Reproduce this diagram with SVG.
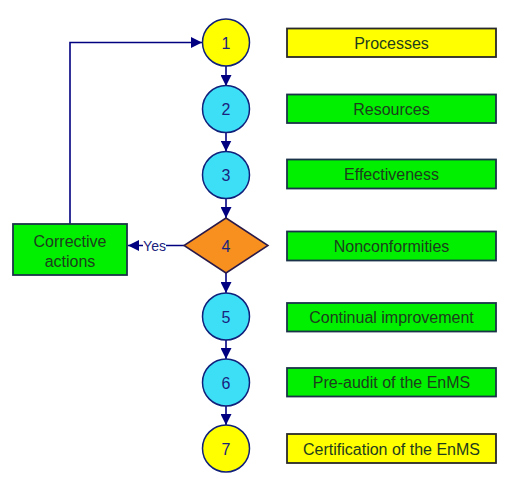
<svg xmlns="http://www.w3.org/2000/svg" width="506" height="479" viewBox="0 0 506 479">
<defs>
<style>
.c{stroke:#10207a;stroke-width:1.5}
.cy{fill:#3ddff7}
.ye{fill:#ffff00}
.gb{fill:#00f000;stroke:#1b3348;stroke-width:1.8}
.yb{fill:#ffff00;stroke:#2a2a2a;stroke-width:1.8}
.t{font-family:"Liberation Sans",Arial,sans-serif;font-size:16px;text-anchor:middle}
.tb{fill:#1d3d1d}
.tn{fill:#1a237e}
.ln{fill:none;stroke:#000080;stroke-width:1.6}
</style>
<marker id="ah" markerUnits="userSpaceOnUse" markerWidth="11" markerHeight="11" refX="11" refY="5.5" orient="auto">
<path d="M0,0 L11,5.5 L0,11 z" fill="#000080"/>
</marker>
</defs>
<rect width="506" height="479" fill="#ffffff"/>
<g id="connectors">
<line class="ln" x1="226" y1="66" x2="226" y2="86" marker-end="url(#ah)"/>
<line class="ln" x1="226" y1="132.5" x2="226" y2="151.5" marker-end="url(#ah)"/>
<line class="ln" x1="226" y1="198.5" x2="226" y2="218" marker-end="url(#ah)"/>
<line class="ln" x1="226" y1="273" x2="226" y2="293" marker-end="url(#ah)"/>
<line class="ln" x1="226" y1="340" x2="226" y2="359" marker-end="url(#ah)"/>
<line class="ln" x1="226" y1="406" x2="226" y2="425" marker-end="url(#ah)"/>
<line class="ln" x1="184" y1="245.5" x2="128" y2="245.5" marker-end="url(#ah)"/>
<rect x="143" y="238" width="23" height="16" fill="#ffffff"/>
<text x="154.5" y="251" font-family="Liberation Sans,Arial,sans-serif" font-size="14" text-anchor="middle" fill="#1a237e">Yes</text>
<polyline class="ln" points="70,224 70,42.5 202,42.5" marker-end="url(#ah)"/>
</g>
<g id="n1"><circle class="c ye" cx="226" cy="42.5" r="23.5"/><text class="t tn" x="226" y="48.5">1</text></g>
<g id="n2"><circle class="c cy" cx="226" cy="109" r="23.5"/><text class="t tn" x="226" y="115">2</text></g>
<g id="n3"><circle class="c cy" cx="226" cy="175" r="23.5"/><text class="t tn" x="226" y="181">3</text></g>
<g id="n4"><polygon points="226,218 268,245.5 226,273 184,245.5" fill="#f7901e" stroke="#2a1a4a" stroke-width="1.5"/><text class="t tn" x="226" y="251.5">4</text></g>
<g id="n5"><circle class="c cy" cx="226" cy="316.5" r="23.5"/><text class="t tn" x="226" y="322.5">5</text></g>
<g id="n6"><circle class="c cy" cx="226" cy="382.5" r="23.5"/><text class="t tn" x="226" y="388.5">6</text></g>
<g id="n7"><circle class="c ye" cx="226" cy="448.5" r="23.5"/><text class="t tn" x="226" y="454.5">7</text></g>
<g id="corrective"><rect class="gb" x="13" y="224" width="114" height="51"/><text class="t tb" x="70" y="246.5">Corrective</text><text class="t tb" x="70" y="266.5">actions</text></g>
<g id="b1"><rect class="yb" x="287" y="28.5" width="209" height="28.5"/><text class="t tb" x="391.5" y="48.5">Processes</text></g>
<g id="b2"><rect class="gb" x="287" y="94.5" width="209" height="28.5"/><text class="t tb" x="391.5" y="114.5">Resources</text></g>
<g id="b3"><rect class="gb" x="287" y="159.5" width="209" height="29"/><text class="t tb" x="391.5" y="180">Effectiveness</text></g>
<g id="b4"><rect class="gb" x="287" y="231.5" width="209" height="29"/><text class="t tb" x="391.5" y="252">Nonconformities</text></g>
<g id="b5"><rect class="gb" x="287" y="303" width="209" height="28.5"/><text class="t tb" x="391.5" y="323">Continual improvement</text></g>
<g id="b6"><rect class="gb" x="287" y="368" width="209" height="28.5"/><text class="t tb" x="391.5" y="388">Pre-audit of the EnMS</text></g>
<g id="b7"><rect class="yb" x="287" y="434" width="209" height="29"/><text class="t tb" x="391.5" y="454.5">Certification of the EnMS</text></g>
</svg>
